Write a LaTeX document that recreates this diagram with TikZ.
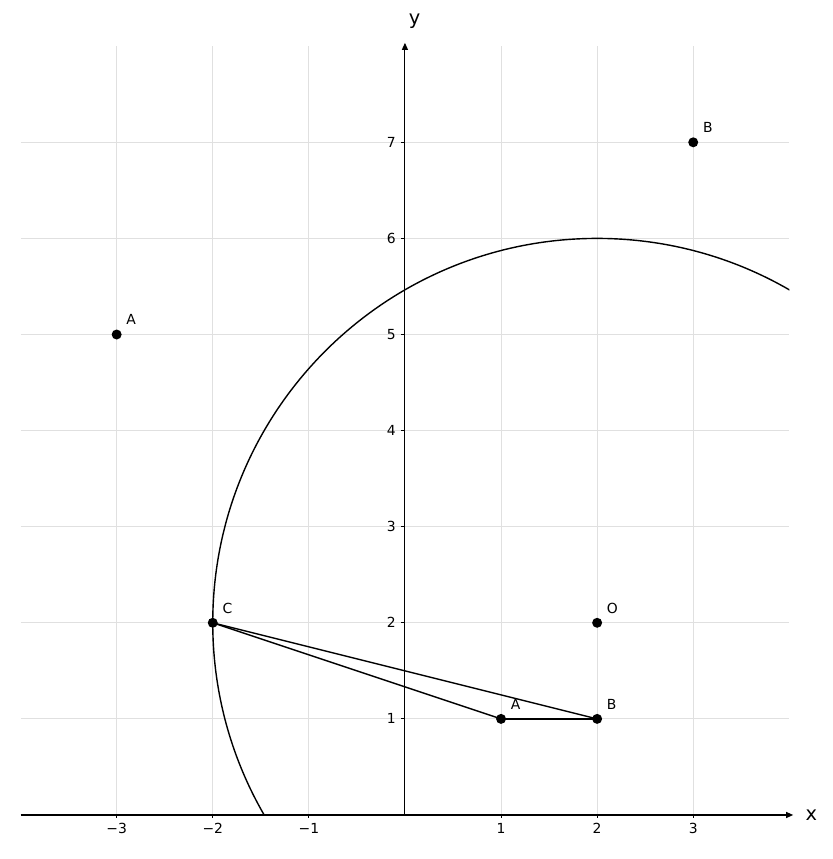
\documentclass[tikz,border=0pt]{standalone}
\usepackage{fontspec}
\setmainfont{DejaVu Sans}
\usetikzlibrary{arrows.meta}
\begin{document}
\begin{tikzpicture}[x=96.1pt,y=96.1pt,
  gridline/.style={draw=black!12,line width=1pt},
  axisline/.style={draw=black,line width=1.1pt,-{Triangle[length=7pt,width=6pt]}},
  tickmark/.style={draw=black,line width=1pt},
  ticklab/.style={font=\fontsize{13.9}{16}\selectfont,inner sep=0pt},
  axlab/.style={font=\fontsize{19.4}{22}\selectfont,inner sep=0pt},
  ptlab/.style={font=\fontsize{13.9}{16}\selectfont,inner sep=0pt,anchor=base west},
  dot/.style={fill=black},
  seg/.style={draw=black,line width=1.4pt}]
\useasboundingbox (-4.214,-0.458) rectangle (4.454,8.481);
% grid
\foreach \i in {-3,-2,-1,1,2,3} \draw[gridline] (\i,0) -- (\i,8);
\foreach \j in {1,...,7} \draw[gridline] (-4,\j) -- (4,\j);
% circle
\begin{scope}
\clip (-4,0) rectangle (4,8);
\draw[seg] (2,2) circle (4);
\end{scope}
% axes
\coordinate (xs) at (-4,0);
\coordinate (xe) at (4.04,0);
\coordinate (ys) at (0,0);
\coordinate (ye) at (0,8.035);
\draw[axisline] (xs) -- (xe);
\draw[axisline] (ys) -- (ye);
\node[axlab] (xl) at (4.23,0) {x};
\node[axlab] (yl) at (0.1,8.26) {y};
% ticks
\foreach \i/\t in {-3/−3,-2/−2,-1/−1,1/1,2/2,3/3} {
  \draw[tickmark] (\i,0) -- ++(0,-3.5pt);
  \node[ticklab,anchor=north] (tx\i) at ([yshift=-8pt]\i,0) {\t};
}
\foreach \j in {1,...,7} {
  \draw[tickmark] (0,\j) -- ++(-3.5pt,0);
  \node[ticklab,anchor=east] (ty\j) at ([xshift=-9pt]0,\j) {\j};
}
% points
\coordinate (A1) at (-3,5);
\coordinate (B1) at (3,7);
\coordinate (C) at (-2,2);
\coordinate (O) at (2,2);
\coordinate (A) at (1,1);
\coordinate (B) at (2,1);
\draw[seg] (C) -- (A);
\draw[seg] (C) -- (B);
\draw[seg] (A) -- (B);
\foreach \p/\l in {A1/A,B1/B,C/C,O/O,A/A,B/B} {
  \fill[dot] (\p) circle (5pt);
  \node[ptlab] (l\p) at ([xshift=9.6pt,yshift=9.6pt]\p) {\l};
}
\end{tikzpicture}
\end{document}
